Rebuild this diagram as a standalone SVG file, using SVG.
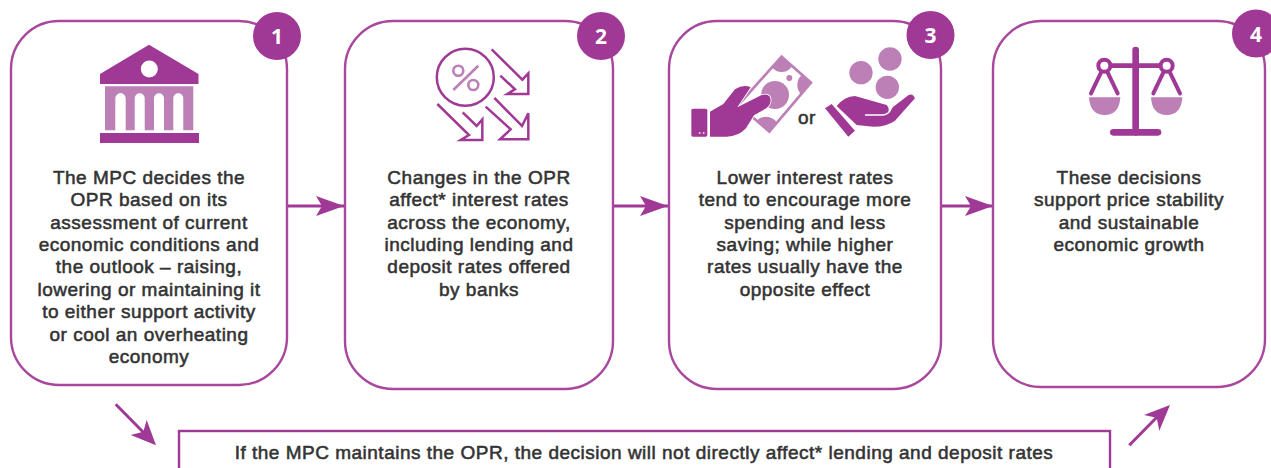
<svg xmlns="http://www.w3.org/2000/svg" width="1271" height="468" viewBox="0 0 1271 468">
<style>
.box{fill:#fff;stroke:#a8479d;stroke-width:2.4}
.badge{fill:#a03895}
.num{font-family:"Open Sans","Liberation Sans",sans-serif;font-weight:700;font-size:21px;fill:#fff;text-anchor:middle}
.t{font-family:"Liberation Sans",Arial,sans-serif;font-weight:400;font-size:19px;letter-spacing:0.5px;fill:#333;stroke:#333;stroke-width:0.55;text-anchor:middle}
.d{fill:#a03895}
.l{fill:#bc7fb6}
.conn{stroke:#a03895;stroke-width:3;fill:none}
.out{fill:none;stroke:#a03895;stroke-width:7.5}
</style>
<defs>
<marker id="head" markerUnits="userSpaceOnUse" markerWidth="30" markerHeight="22" refX="28" refY="10" orient="auto" viewBox="0 0 30 22"><path d="M0,0L28,10L0,20L6,10Z" fill="#a03895"/></marker>
</defs>
<g id="connectors">
<path class="conn" d="M288,206H344" marker-end="url(#head)"/>
<path class="conn" d="M613,206H668" marker-end="url(#head)"/>
<path class="conn" d="M941,206H993" marker-end="url(#head)"/>
<path class="conn" d="M115.7,404.3L147,436"/>
<path class="d" d="M156,445.300L130.700,435L143.300,431.700L146.700,420Z"/>
<path class="conn" d="M1129.300,445.300L1160,414"/>
<path class="d" d="M1170,405L1144,415L1156.700,417.700L1159.300,430.700Z"/>
</g>
<g id="node-1">
<rect class="box" x="11" y="21" width="276" height="364" rx="48"/>
<circle class="badge" cx="277" cy="36" r="24"/>
<text class="num" x="277" y="44">1</text>
<path class="d" d="M149,44.700L198.500,74V84H100V74Z"/>
<circle cx="149.300" cy="69" r="8.500" fill="#fff"/>
<path class="l" fill-rule="evenodd" d="M105,86.300H193.300V130.300H105ZM115.300,130.300H125.700V98.300A5.200,5.200 0 0 0 115.300,98.300ZM134.700,130.300H144.700V98.300A5,5 0 0 0 134.700,98.300ZM154,130.300H164V98.300A5,5 0 0 0 154,98.300ZM173.300,130.300H183.300V98.300A5,5 0 0 0 173.300,98.300Z"/>
<rect class="d" x="100" y="133" width="99" height="10"/>
<text class="t" x="149" y="183.500">The MPC decides the</text>
<text class="t" x="149" y="206">OPR based on its</text>
<text class="t" x="149" y="228.500">assessment of current</text>
<text class="t" x="149" y="251">economic conditions and</text>
<text class="t" x="149" y="273">the outlook – raising,</text>
<text class="t" x="149" y="295.500">lowering or maintaining it</text>
<text class="t" x="149" y="318">to either support activity</text>
<text class="t" x="149" y="340.500">or cool an overheating</text>
<text class="t" x="149" y="362.500">economy</text>
</g>
<g id="node-2">
<rect class="box" x="345" y="21" width="268" height="368" rx="48"/>
<circle class="badge" cx="601" cy="36" r="24"/>
<text class="num" x="601" y="44">2</text>
<circle cx="465.300" cy="77.300" r="28.500" fill="none" stroke="#a03895" stroke-width="2.500"/>
<g fill="none" stroke="#bc7fb6" stroke-width="2.600">
<path d="M453.300,90L478.300,65.700"/>
<circle cx="458.300" cy="70.700" r="5"/>
<circle cx="473.300" cy="85" r="5"/>
</g>
<g transform="translate(420,10) scale(0.3333)">
<path class="out" d="M215,118L307,209L325,190V252H262L285,238L241,197"/>
<path class="out" d="M223,264L306,348L325,310V388H240L272,358L197,290"/>
<path class="out" d="M52,282L147,375L122,390H187V328L170,348L128,307"/>
</g>
<text class="t" x="479" y="183.500">Changes in the OPR</text>
<text class="t" x="479" y="206">affect* interest rates</text>
<text class="t" x="479" y="228.500">across the economy,</text>
<text class="t" x="479" y="251">including lending and</text>
<text class="t" x="479" y="273">deposit rates offered</text>
<text class="t" x="479" y="295.500">by banks</text>
</g>
<g id="node-3">
<rect class="box" x="669" y="21" width="272" height="368" rx="48"/>
<circle class="badge" cx="930.500" cy="35" r="24"/>
<text class="num" x="930.500" y="43">3</text>
<g transform="translate(680,10) scale(0.3333)">
<clipPath id="note"><path d="M305,140L393,218L268,365L175,285Z"/></clipPath>
<path d="M305,140L393,218L268,365L175,285Z" fill="#fff"/>
<g clip-path="url(#note)" class="l">
<circle cx="285" cy="255" r="42"/>
<circle cx="305" cy="150" r="36"/>
<circle cx="392" cy="225" r="40"/>
<circle cx="258" cy="358" r="38"/>
<circle cx="328" cy="204" r="9"/>
</g>
<path d="M305,140L393,218L268,365L175,285Z" fill="none" stroke="#bc7fb6" stroke-width="8"/>
<rect class="d" x="34" y="296" width="48" height="84" rx="5"/>
<circle cx="59" cy="369" r="3" fill="#e6cde3"/>
<circle cx="71" cy="369" r="3" fill="#e6cde3"/>
<path d="M90,305L130,282L165,238Q190,222 212,232L172,292L245,255Q272,248 272,272Q270,290 250,300L222,316L198,355Q175,380 140,380H90Z" class="d" stroke="#fff" stroke-width="5" paint-order="stroke"/>
<g class="l">
<circle cx="630" cy="147" r="35"/>
<circle cx="543" cy="188" r="35"/>
<circle cx="622" cy="232" r="35"/>
</g>
<path class="d" d="M435,295L455,282L525,362L505,380Z"/>
<path class="d" d="M470,288Q495,258 525,258L620,285Q632,298 622,312L620,314L640,290L685,256Q698,248 705,265L645,332Q620,350 580,350L530,345Z"/>
<path d="M555,315H610Q630,312 634,292" fill="none" stroke="#fff" stroke-width="4"/>
</g>
<text class="t" x="807" y="124">or</text>
<text class="t" x="805" y="183.500">Lower interest rates</text>
<text class="t" x="805" y="206">tend to encourage more</text>
<text class="t" x="805" y="228.500">spending and less</text>
<text class="t" x="805" y="251">saving; while higher</text>
<text class="t" x="805" y="273">rates usually have the</text>
<text class="t" x="805" y="295.500">opposite effect</text>
</g>
<g id="node-4">
<rect class="box" x="993" y="21" width="272" height="366" rx="48"/>
<circle class="badge" cx="1256" cy="33.500" r="24"/>
<text class="num" x="1256" y="41.500">4</text>
<g transform="translate(1060,10) scale(0.3333)">
<g fill="none" stroke="#a03895" stroke-linecap="round">
<path d="M227,120V367" stroke-width="20"/>
<path d="M160,367H294" stroke-width="20"/>
<path d="M133,167H320" stroke-width="14"/>
<path d="M133,167L93,250M133,167L173,250M320,167L280,250M320,167L360,250" stroke-width="12"/>
</g>
<circle cx="133" cy="167" r="18" fill="#fff" stroke="#a03895" stroke-width="12"/>
<circle cx="320" cy="167" r="18" fill="#fff" stroke="#a03895" stroke-width="12"/>
<path class="l" d="M87,262H181Q178,315 134,315Q90,315 87,262Z"/>
<path class="l" d="M273,262H367Q364,315 320,315Q276,315 273,262Z"/>
</g>
<text class="t" x="1129" y="183.500">These decisions</text>
<text class="t" x="1129" y="206">support price stability</text>
<text class="t" x="1129" y="228.500">and sustainable</text>
<text class="t" x="1129" y="251">economic growth</text>
</g>
<g id="node-note">
<rect x="179" y="431" width="931" height="60" fill="#fff" stroke="#a03895" stroke-width="2.400"/>
<text class="t" x="644" y="458.500">If the MPC maintains the OPR, the decision will not directly affect* lending and deposit rates</text>
</g>
</svg>
